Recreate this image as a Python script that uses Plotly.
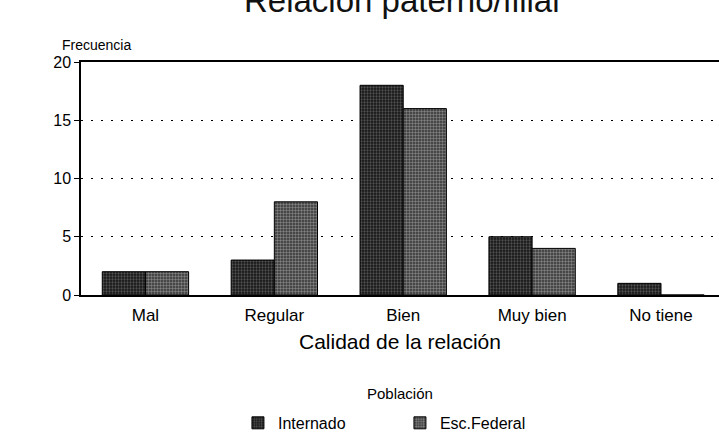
import plotly.graph_objects as go

categories = ["Mal", "Regular", "Bien", "Muy bien", "No tiene"]
internado = [2, 3, 18, 5, 1]
esc_federal = [2, 8, 16, 4, 0]
y_ticks = [0, 5, 10, 15, 20]

FONT = "Liberation Sans, Arial, sans-serif"

fig = go.Figure()
fig.add_trace(go.Bar(
    x=categories, y=internado, name="Internado",
    marker=dict(
        color="#1c1c1c",
        line=dict(color="black", width=1),
        pattern=dict(shape=".", bgcolor="#151515", fgcolor="#8c8c8c",
                     size=3, solidity=0.45),
    ),
))
fig.add_trace(go.Bar(
    x=categories, y=esc_federal, name="Esc.Federal",
    marker=dict(
        color="#4a4a4a",
        line=dict(color="black", width=1),
        pattern=dict(shape=".", bgcolor="#333333", fgcolor="#d0d0d0",
                     size=3, solidity=0.5),
    ),
))

fig.update_layout(
    width=719, height=432,
    margin=dict(l=81, r=0, t=62, b=137, autoexpand=False),
    paper_bgcolor="white", plot_bgcolor="white",
    font=dict(family=FONT, color="black", size=14),
    barmode="group", bargap=0.33, bargroupgap=0,
    legend=dict(
        orientation="h", x=0.246, xanchor="left", y=-0.549, yanchor="middle",
        font=dict(size=16), entrywidth=117, itemwidth=30,
    ),
    showlegend=True,
)

fig.update_xaxes(
    range=[-0.5, 4.45], showline=True, linecolor="black", linewidth=1.5,
    mirror=True, ticks="outside", ticklen=4, tickcolor="rgba(0,0,0,0)",
    showgrid=False, tickfont=dict(size=17),
    title=dict(text="Calidad de la relación", font=dict(size=21), standoff=10),
)
fig.update_yaxes(
    range=[0, 20], tickvals=y_ticks, showline=True, linecolor="black",
    linewidth=1.5, ticks="outside", ticklen=5, tickcolor="black",
    tickfont=dict(size=16), showgrid=True, gridcolor="black", gridwidth=1,
    griddash="2px,8px", zeroline=False,
)

# title sits partly above the page edge, as in the scanned original
fig.add_annotation(text="Relación paterno/filial", xref="paper", yref="paper",
                   x=0.503, y=1.262, xanchor="center", yanchor="middle",
                   showarrow=False, font=dict(size=33, color="#111"))
fig.add_annotation(text="Frecuencia", xref="paper", yref="paper", x=-0.033, y=1.03,
                   xanchor="left", yanchor="bottom", showarrow=False, font=dict(size=14))
fig.add_annotation(text="Población", xref="paper", yref="paper", x=0.5, y=-0.421,
                   xanchor="center", yanchor="middle", showarrow=False, font=dict(size=15))

# drop the default 8px body margin so the figure fills the window
fig.write_html("out.html", config={"displayModeBar": False},
               post_script="document.body.style.margin='0';")
